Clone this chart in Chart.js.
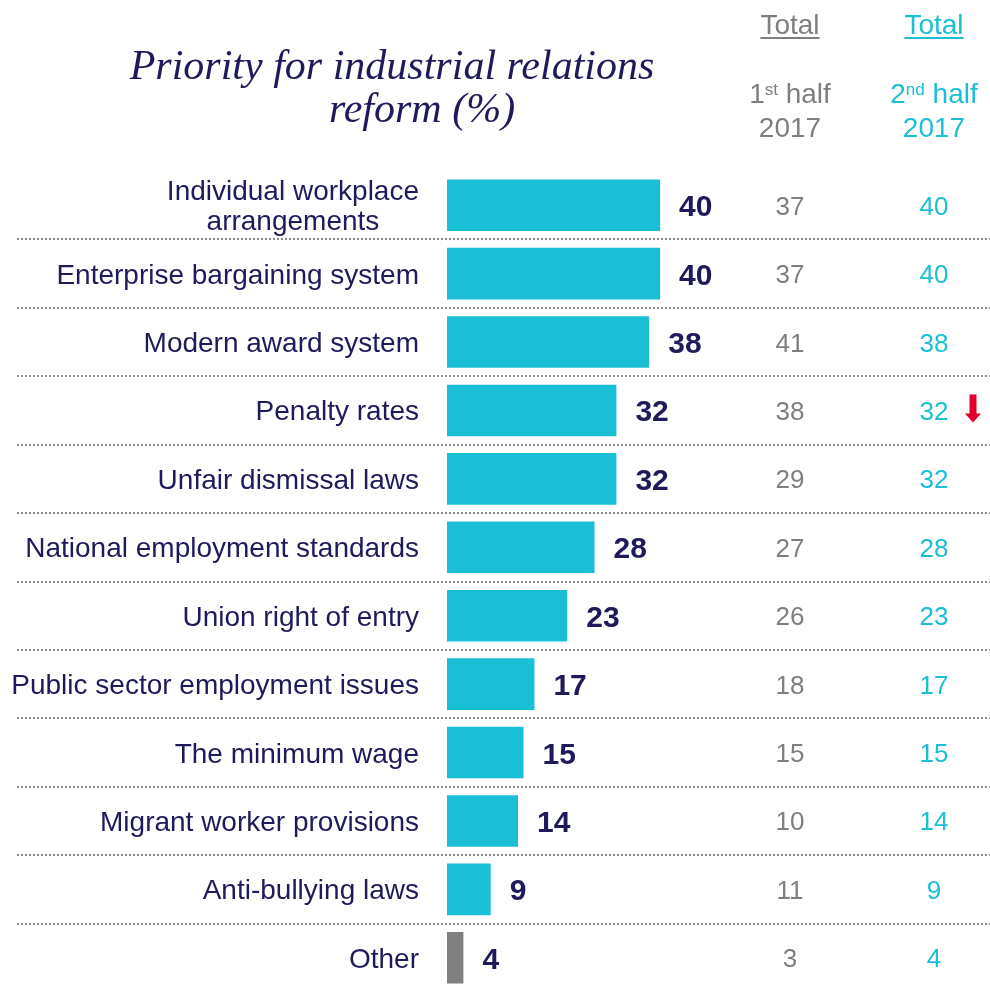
<!DOCTYPE html>
<html>
<head>
<meta charset="utf-8">
<title>Priority for industrial relations reform</title>
<script src="https://cdn.jsdelivr.net/npm/chart.js@4.4.1/dist/chart.umd.min.js"></script>
<style>
  html, body { margin: 0; padding: 0; background: #fff; }
  #wrap { width: 990px; height: 992px; }
</style>
</head>
<body>
<div id="wrap"><canvas id="irChart" width="990" height="992"></canvas></div>
<script>
// survey results, % of respondents naming each area as a reform priority
const categories = [
  ['Individual workplace', 'arrangements'],
  ['Enterprise bargaining system'],
  ['Modern award system'],
  ['Penalty rates'],
  ['Unfair dismissal laws'],
  ['National employment standards'],
  ['Union right of entry'],
  ['Public sector employment issues'],
  ['The minimum wage'],
  ['Migrant worker provisions'],
  ['Anti-bullying laws'],
  ['Other']
];
const secondHalf = [40, 40, 38, 32, 32, 28, 23, 17, 15, 14, 9, 4];
const firstHalf = [37, 37, 41, 38, 29, 27, 26, 18, 15, 10, 11, 3];
// significant movement vs previous wave
const movement = ['', '', '', 'down', '', '', '', '', '', '', '', ''];

const titleLines = ['Priority for industrial relations', 'reform (%)'];
const periodHeads = [
  { head: 'Total', num: '1', sup: 'st', rest: ' half', year: '2017' },
  { head: 'Total', num: '2', sup: 'nd', rest: ' half', year: '2017' }
];

const NAVY = '#1f1a5b';
const CYAN = '#1bbfd5';
const GREY = '#7f7f7f';
const SANS = 'Arial, "Liberation Sans", sans-serif';
const SERIF = '"Liberation Serif", "Times New Roman", serif';
const colX = [790, 934];
const colColours = [GREY, CYAN];

const barColours = categories.map((c, i) => i === categories.length - 1 ? '#808080' : CYAN);

const tablePlugin = {
  id: 'irTable',
  beforeDatasetsDraw(chart) {
    const { ctx, scales: { y } } = chart;
    ctx.save();
    ctx.strokeStyle = '#8a8a8a';
    ctx.lineWidth = 2;
    ctx.setLineDash([2, 2]);
    for (let i = 0; i < categories.length - 1; i++) {
      const yy = Math.round((y.getPixelForValue(i) + y.getPixelForValue(i + 1)) / 2);
      ctx.beginPath();
      ctx.moveTo(17, yy);
      ctx.lineTo(990, yy);
      ctx.stroke();
    }
    ctx.restore();
  },
  afterDraw(chart) {
    const { ctx, scales: { y } } = chart;
    const bars = chart.getDatasetMeta(0).data;
    ctx.save();

    // title
    ctx.fillStyle = NAVY;
    ctx.font = 'italic 42px ' + SERIF;
    ctx.textAlign = 'center';
    ctx.textBaseline = 'alphabetic';
    ctx.fillText(titleLines[0], 392, 79);
    ctx.fillText(titleLines[1], 422, 122);

    // column headings
    periodHeads.forEach((p, k) => {
      const cx = colX[k];
      ctx.fillStyle = colColours[k];
      ctx.font = '28px ' + SANS;
      ctx.textAlign = 'center';
      ctx.fillText(p.head, cx, 34);
      const hw = ctx.measureText(p.head).width;
      ctx.fillRect(cx - hw / 2, 37, hw, 2);

      const big = '28px ' + SANS, small = '17px ' + SANS;
      ctx.font = big;
      const wNum = ctx.measureText(p.num).width;
      const wRest = ctx.measureText(p.rest).width;
      ctx.font = small;
      const wSup = ctx.measureText(p.sup).width;
      let x = cx - (wNum + wSup + wRest) / 2;
      ctx.textAlign = 'left';
      ctx.font = big;
      ctx.fillText(p.num, x, 103);
      x += wNum;
      ctx.font = small;
      ctx.fillText(p.sup, x, 95);
      x += wSup;
      ctx.font = big;
      ctx.fillText(p.rest, x, 103);
      ctx.textAlign = 'center';
      ctx.fillText(p.year, cx, 137);
    });

    categories.forEach((lines, i) => {
      const cy = y.getPixelForValue(i);

      // category label, block right-aligned, lines centred within it
      ctx.fillStyle = NAVY;
      ctx.font = '28px ' + SANS;
      const widest = Math.max(...lines.map(l => ctx.measureText(l).width));
      const lineGap = 30;
      const firstBase = cy + 10 - (lines.length - 1) * lineGap / 2;
      ctx.textAlign = 'center';
      lines.forEach((l, j) => ctx.fillText(l, 419 - widest / 2, firstBase + j * lineGap));

      // value at bar end
      ctx.font = 'bold 30px ' + SANS;
      ctx.textAlign = 'left';
      ctx.fillText(String(secondHalf[i]), bars[i].x + 19, cy + 11);

      // comparison columns
      ctx.font = '26px ' + SANS;
      ctx.textAlign = 'center';
      ctx.fillStyle = GREY;
      ctx.fillText(String(firstHalf[i]), colX[0], cy + 9.5);
      ctx.fillStyle = CYAN;
      ctx.fillText(String(secondHalf[i]), colX[1], cy + 9.5);

      if (movement[i] === 'down') {
        const ax = 973;
        ctx.fillStyle = '#e2002b';
        ctx.fillRect(ax - 3.5, cy - 16, 7, 20);
        ctx.beginPath();
        ctx.moveTo(ax - 8, cy + 3);
        ctx.lineTo(ax + 8, cy + 3);
        ctx.lineTo(ax, cy + 12);
        ctx.closePath();
        ctx.fill();
      }
    });
    ctx.restore();
  }
};

new Chart(document.getElementById('irChart'), {
  type: 'bar',
  data: {
    labels: categories,
    datasets: [{
      data: secondHalf,
      backgroundColor: barColours,
      borderWidth: 0,
      barPercentage: 0.755,
      categoryPercentage: 1
    }]
  },
  options: {
    indexAxis: 'y',
    responsive: false,
    animation: false,
    devicePixelRatio: 1,
    layout: { padding: { left: 447, right: 2, top: 171, bottom: 0 } },
    scales: {
      x: { display: false, min: 1, max: 100 },
      y: { display: false }
    },
    plugins: {
      legend: { display: false },
      tooltip: { enabled: false }
    }
  },
  plugins: [tablePlugin]
});
</script>
</body>
</html>
